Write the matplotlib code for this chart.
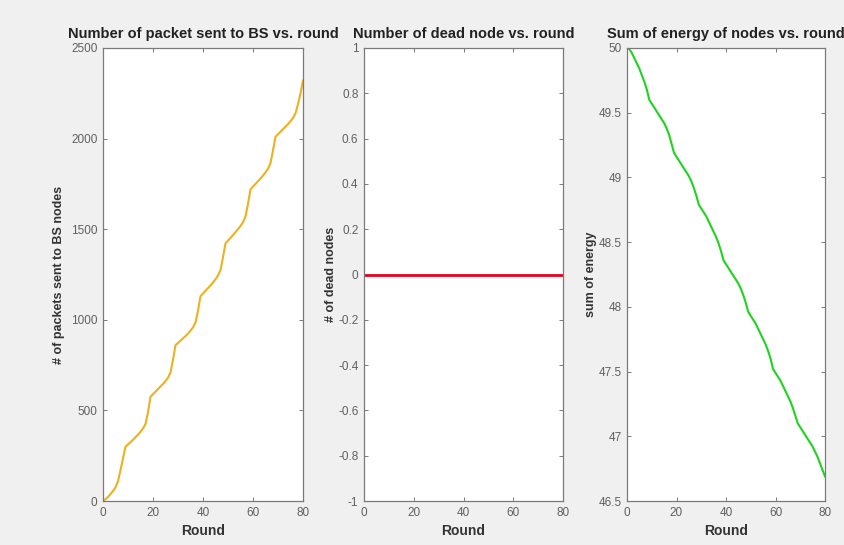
import matplotlib
matplotlib.use("Agg")
import matplotlib.pyplot as plt
import numpy as np

rounds = list(range(0, 81))

packets = [0, 10, 22, 38, 55, 75, 110, 170, 235, 300,
           312, 325, 338, 352, 366, 382, 400, 425, 490, 575,
           590, 604, 618, 632, 646, 662, 680, 710, 780, 860,
           872, 885, 898, 910, 924, 940, 958, 985, 1050, 1130,
           1145, 1160, 1175, 1190, 1206, 1224, 1245, 1275, 1345, 1422,
           1437, 1452, 1468, 1484, 1500, 1518, 1538, 1570, 1640, 1720,
           1735, 1750, 1765, 1780, 1796, 1814, 1834, 1865, 1935, 2010,
           2024, 2038, 2052, 2066, 2080, 2096, 2114, 2140, 2190, 2250,
           2320]

dead_nodes = [0] * 81

energy = [50.00, 49.99, 49.96, 49.92, 49.88, 49.84, 49.79, 49.74, 49.68, 49.60,
          49.57, 49.54, 49.51, 49.48, 49.45, 49.42, 49.38, 49.33, 49.26, 49.19,
          49.16, 49.13, 49.10, 49.07, 49.04, 49.01, 48.97, 48.92, 48.86, 48.79,
          48.76, 48.73, 48.70, 48.66, 48.62, 48.58, 48.54, 48.49, 48.43, 48.36,
          48.33, 48.30, 48.27, 48.24, 48.21, 48.18, 48.14, 48.09, 48.03, 47.96,
          47.93, 47.90, 47.87, 47.83, 47.79, 47.75, 47.71, 47.66, 47.60, 47.52,
          47.49, 47.46, 47.43, 47.39, 47.35, 47.31, 47.27, 47.22, 47.16, 47.10,
          47.07, 47.04, 47.01, 46.98, 46.95, 46.92, 46.88, 46.84, 46.79, 46.74,
          46.69]

x_ticks = [0, 20, 40, 60, 80]

plt.rcParams["font.family"] = ["Liberation Sans", "DejaVu Sans"]

W, H = 844, 545
fig = plt.figure(figsize=(W / 100, H / 100), dpi=100)
fig.patch.set_facecolor("#f0f0f0")


def make_axes(left, right, top=48, bottom=501):
    ax = fig.add_axes([left / W, (H - bottom) / H, (right - left) / W, (bottom - top) / H])
    ax.set_facecolor("white")
    for s in ax.spines.values():
        s.set_color("#7a7a7a")
        s.set_linewidth(0.9)
    ax.tick_params(direction="in", length=3, width=0.7, color="#7a7a7a",
                   top=True, right=True, labelsize=8.5, labelcolor="#606060", pad=4)
    ax.set_xlim(0, 80)
    ax.set_xticks(x_ticks)
    ax.set_xlabel("Round", fontsize=10, fontweight="bold", color="#333333", labelpad=4)
    return ax


def set_title(ax, text):
    ax.set_title(text, fontsize=10.5, fontweight="bold", color="#222222", pad=7)


def set_ylabel(ax, text, pad):
    ax.set_ylabel(text, fontsize=9, fontweight="bold", color="#333333", labelpad=pad)


# packets sent to BS
ax1 = make_axes(103, 303)
ax1.plot(rounds, packets, color="#EDB120", lw=1.5)
ax1.set_ylim(0, 2500)
ax1.set_yticks([0, 500, 1000, 1500, 2000, 2500])
set_ylabel(ax1, "# of packets sent to BS nodes", 4)
set_title(ax1, "Number of packet sent to BS vs. round")

# dead nodes
ax2 = make_axes(364, 563)
ax2.plot(rounds, dead_nodes, color="#e8001c", lw=2)
ax2.set_ylim(-1, 1)
ax2.set_yticks(np.round(np.arange(-1, 1.01, 0.2), 1))
ax2.set_yticklabels(["-1", "-0.8", "-0.6", "-0.4", "-0.2", "0",
                     "0.2", "0.4", "0.6", "0.8", "1"])
set_ylabel(ax2, "# of dead nodes", 1)
set_title(ax2, "Number of dead node vs. round")

# energy
ax3 = make_axes(627, 825)
ax3.plot(rounds, energy, color="#1fd31f", lw=1.5)
ax3.set_ylim(46.5, 50)
ax3.set_yticks([46.5, 47, 47.5, 48, 48.5, 49, 49.5, 50])
ax3.set_yticklabels(["46.5", "47", "47.5", "48", "48.5", "49", "49.5", "50"])
set_ylabel(ax3, "sum of energy", 1)
set_title(ax3, "Sum of energy of nodes vs. round")

fig.savefig("out.png", dpi=100, facecolor=fig.get_facecolor())
